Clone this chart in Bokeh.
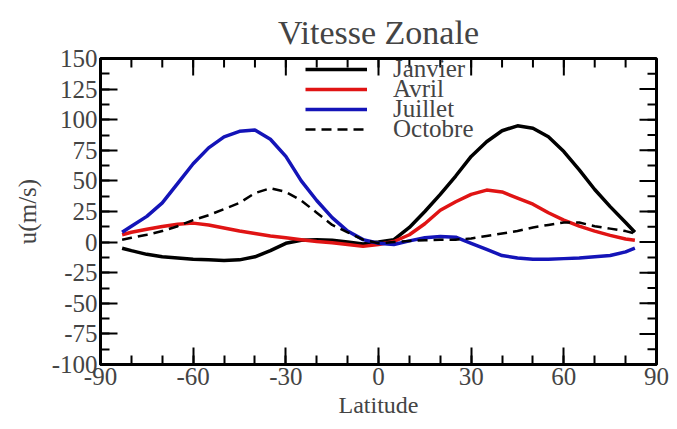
from bokeh.plotting import figure
from bokeh.models import LinearAxis, FixedTicker, Legend, LegendItem, Range1d
from bokeh.embed import file_html
from bokeh.resources import INLINE

lat = [-83, -80, -75, -70, -65, -60, -55, -50, -45, -40, -35, -30, -25, -20, -15, -10, -5,
       0, 5, 10, 15, 20, 25, 30, 35, 40, 45, 50, 55, 60, 65, 70, 75, 80, 83]

janvier = [-5, -7, -10, -12, -13, -14, -14.5, -15, -14.5, -12, -7, -1, 1.5, 2, 1.5, 0, -1.5,
           0, 2, 12, 25, 39, 54, 70, 82, 91, 95, 93, 86, 74, 59, 43, 29, 16, 8]
avril = [6, 8, 10.5, 12.7, 14.5, 15.5, 14, 11.5, 9, 7, 5, 3.5, 2, 0.5, -0.5, -2, -3.5,
         -2, 0.5, 6, 15, 26, 33, 39, 42.5, 41, 36, 31, 24, 18, 13, 9, 5.5, 2.5, 1.5]
juillet = [8, 13, 21, 32, 48, 64, 77, 86, 90.5, 91.5, 84, 70, 50, 34, 20, 9, 2,
           -1, -2, 1, 3.5, 4.5, 4, -1, -6, -11, -13, -14, -14, -13.5, -13, -12, -11, -8, -5]
octobre = [2, 3.5, 6, 9, 13, 18, 22, 27, 32, 40, 44, 41, 34, 24, 14, 8, 2,
           -1, 0, 1, 1.5, 2, 2, 3, 5, 7, 9, 12, 14, 16, 16, 13, 11, 9, 7]

months = ["Janvier", "Avril", "Juillet", "Octobre"]

x_ticks = [-90, -60, -30, 0, 30, 60, 90]
x_minor = list(range(-90, 91, 10))
y_ticks = [-100, -75, -50, -25, 0, 25, 50, 75, 100, 125, 150]
y_minor = [v / 2 for v in range(-200, 301, 25)]

FONT = "Liberation Serif, Times New Roman, serif"

W, H = 677, 429
BL, BR, BT, BB = 100, 21, 58, 65
X0, X1, Y0, Y1 = -90, 90, -100, 150
MAJ, MIN = 17, 9

p = figure(width=W, height=H, output_backend="svg", toolbar_location=None,
           x_range=Range1d(X0, X1), y_range=Range1d(Y0, Y1),
           x_axis_type=None, y_axis_type=None,
           min_border_left=BL, min_border_right=BR, min_border_top=BT, min_border_bottom=BB,
           title="Vitesse Zonale")
p.title.text_font = FONT
p.title.text_font_size = "34px"
p.title.text_font_style = "normal"
p.title.align = "center"
p.title.standoff = 16
p.grid.visible = False
p.outline_line_color = "black"
p.outline_line_width = 3
p.background_fill_color = "white"
p.border_fill_color = "white"


def style_axis(ax, ticks, minor):
    ax.ticker = FixedTicker(ticks=ticks, minor_ticks=minor)
    ax.axis_line_width = 3
    ax.axis_line_color = "black"
    ax.major_tick_in = MAJ
    ax.major_tick_out = 0
    ax.minor_tick_in = MIN
    ax.minor_tick_out = 0
    ax.major_tick_line_width = 2
    ax.minor_tick_line_width = 2
    ax.major_label_text_font = FONT
    ax.major_label_standoff = 3
    ax.axis_label_text_font = FONT
    ax.axis_label_text_font_style = "normal"
    ax.major_label_text_font_size = "25px"
    ax.major_label_overrides = {t: str(t) for t in ticks}


xb = LinearAxis(axis_label="Latitude")
style_axis(xb, x_ticks, x_minor)
xb.axis_label_text_font_size = "24px"
xb.axis_label_standoff = 4
p.add_layout(xb, "below")

yl = LinearAxis(axis_label="u(m/s)")
style_axis(yl, y_ticks, y_minor)
yl.axis_label_text_font_size = "25px"
yl.axis_label_standoff = 8
p.add_layout(yl, "left")

# top and right inward ticks (mirror of the bottom / left axes)
fw = W - BL - BR
fh = H - BT - BB
dy_maj = MAJ * (Y1 - Y0) / fh
dy_min = MIN * (Y1 - Y0) / fh
dx_maj = MAJ * (X1 - X0) / fw
dx_min = MIN * (X1 - X0) / fw
p.segment(x0=x_ticks, y0=[Y1] * len(x_ticks), x1=x_ticks, y1=[Y1 - dy_maj] * len(x_ticks),
          line_color="black", line_width=2)
p.segment(x0=x_minor, y0=[Y1] * len(x_minor), x1=x_minor, y1=[Y1 - dy_min] * len(x_minor),
          line_color="black", line_width=2)
p.segment(x0=[X1] * len(y_ticks), y0=y_ticks, x1=[X1 - dx_maj] * len(y_ticks), y1=y_ticks,
          line_color="black", line_width=2)
p.segment(x0=[X1] * len(y_minor), y0=y_minor, x1=[X1 - dx_min] * len(y_minor), y1=y_minor,
          line_color="black", line_width=2)

r1 = p.line(lat, janvier, line_color="black", line_width=3.5)
r2 = p.line(lat, avril, line_color="#e01414", line_width=3.5)
r3 = p.line(lat, juillet, line_color="#1414b8", line_width=3.5)
r4 = p.line(lat, octobre, line_color="black", line_width=2.5, line_dash="10 6")

# one single-item legend per row, so that rows can be packed tightly (20 px apart)
for i, (name, r) in enumerate(zip(months, [r1, r2, r3, r4])):
    lg = Legend(items=[LegendItem(label=name, renderers=[r])],
                location=(205, 281 - 20 * i))
    lg.label_text_font = FONT
    lg.label_text_font_size = "25px"
    lg.label_height = 20
    lg.glyph_height = 20
    lg.glyph_width = 62
    lg.label_standoff = 26
    lg.spacing = 0
    lg.padding = 0
    lg.margin = 0
    lg.border_line_alpha = 0
    lg.background_fill_alpha = 0
    p.add_layout(lg, "center")

open("out.html", "w").write(file_html(p, INLINE))
